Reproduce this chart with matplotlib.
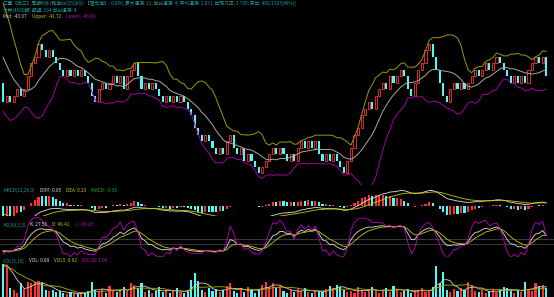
import matplotlib
matplotlib.use('Agg')
import matplotlib.pyplot as plt
import numpy as np
import pandas as pd

plt.rcParams['font.family'] = ['Noto Sans CJK SC', 'DejaVu Sans']

# lead-in bars before the visible window (only used to warm up the indicators)
pre_close = [25, 24, 23, 21, 20, 18, 16, 15, 15]
pre_vol = [2.2, 2.6, 2.4, 3.0, 2.8, 2.5, 2.9, 2.6, 3.1]

# visible bars: close level of each period
close = [12, 13, 12, 13, 14, 13, 14, 16, 18, 19, 21,
         20, 19, 20, 19, 18, 17, 16, 17, 16,
         17, 16, 17, 16, 15, 13, 12, 14, 15, 14, 15,
         16, 15, 16, 14, 16, 17, 18, 16, 14,
         15, 14, 15, 14, 13, 12, 13, 12, 13, 12, 13, 12,
         11, 10, 8, 7, 6, 7, 6, 5, 4, 5, 4, 6, 7,
         5, 4, 5, 3, 4, 3, 2, 1, 2, 3, 4,
         5, 4, 5, 4, 3, 4, 3, 5, 6, 5, 6, 5, 6,
         4, 3, 4, 3, 4, 3, 2, 1, 3, 5, 7,
         8, 10, 11, 12, 11, 13, 14, 15, 14, 16, 15,
         16, 17, 16, 14, 13, 15, 17, 18, 20, 21,
         19, 17, 15, 13, 12, 14, 15, 14, 15, 14, 15, 16,
         17, 16, 17, 18, 17, 18, 19, 18, 17, 16, 15,
         16, 15, 16, 15, 17, 18, 19, 18, 19, 16]

vol = [3.0, 2.8, 0.8, 0.6, 0.3,
       1.2, 0.7, 1.3, 1.2, 1.3, 1.4, 1.2,
       0.6, 0.5, 0.6, 0.4, 0.5,
       0.3, 0.2, 0.4, 0.3, 0.2, 0.4, 0.3, 0.5,
       1.3, 0.6,
       0.4, 0.7, 0.3, 1.0, 0.5, 0.4, 0.6, 0.9, 0.5,
       1.2, 1.1, 0.8, 1.2,
       0.4, 0.6, 0.3, 0.5, 0.9, 0.4, 0.6, 0.3, 0.5, 0.8, 0.4, 0.3, 0.6,
       1.5, 2.1, 1.4,
       0.6, 0.4, 0.8, 0.5, 0.7, 0.4, 0.6, 1.0,
       1.2, 0.5, 0.3, 0.8, 0.4, 0.9, 0.6, 0.3, 0.7,
       1.1, 1.3, 0.9, 1.2, 0.8, 1.0,
       0.5, 0.3, 0.6, 0.4, 0.7, 0.5, 0.8, 0.4, 0.3, 0.6, 0.5, 0.4, 0.7,
       1.0, 0.8, 1.1, 0.9, 0.6,
       0.4, 0.5, 0.3, 0.9, 0.6, 0.4, 0.7, 0.9, 0.5, 0.3, 0.6, 0.8, 0.4,
       1.0, 0.6, 0.4, 0.5, 0.7, 0.3, 0.5, 0.6, 0.8, 0.4, 0.5, 0.9,
       2.8, 1.2, 2.2,
       0.6, 0.4, 0.7, 0.5, 0.8, 0.6, 1.3, 1.1, 0.5, 0.4, 0.6,
       0.3, 0.5, 0.7, 0.4, 0.6, 0.9, 0.8, 0.5, 0.3, 0.6, 0.4, 1.3, 0.7, 0.5,
       1.2, 0.9, 1.1, 0.8]

header1 = ('三星【后三】周期K线 (精选Ax(25)(k3)) 【理论值】: 0.856; 最大遗漏: 11; '
           '当前遗漏: 4; 平均遗漏: 1.071; 出现几率: 3.736; 实出: 482/1303(48%)]')
header2 = '次数(4680期) 期望: 294 当前遗漏: 4'
boll_labels = [('Mid: -43.07', '#c8c8c8'), ('Upper: -41.72', '#c8c800'), ('Lower: -46.03', '#d000d0')]
macd_labels = [('MACD(12,26,9)', '#1e9e9e'), ('DIFF: 0.85', '#e0e0e0'), ('DEA: 0.23', '#c8c800'), ('MACD: -0.36', '#20b020')]
kdj_labels = [('KDJ(9,3,3)', '#1e9e9e'), ('K: 27.56', '#e0e0e0'), ('D: 49.41', '#c8c800'), ('J: -16.13', '#d000d0')]
vol_labels = [('VOL(5,10)', '#1e9e9e'), ('VOL: 0.89', '#e0e0e0'), ('VOL5: 0.92', '#c8c800'), ('VOL10: 1.06', '#d000d0')]

RED = '#ff3030'
CYAN = '#50f8f8'
BG = 'black'

# indicators
c_all = pd.Series(pre_close + close, dtype=float)
o_all = c_all.shift(1).fillna(c_all.iloc[0])
h_all = np.maximum(c_all, o_all)
l_all = np.minimum(c_all, o_all)
v_all = pd.Series(pre_vol + vol, dtype=float)
k0 = len(pre_close)

mid = c_all.rolling(10, min_periods=1).mean()
sd = c_all.rolling(10, min_periods=1).std(ddof=0)
upper = mid + 2 * sd
lower = mid - 2 * sd

dif = c_all.ewm(span=12, adjust=False).mean() - c_all.ewm(span=26, adjust=False).mean()
dea = dif.ewm(span=9, adjust=False).mean()
macd = 2 * (dif - dea)

llv = l_all.rolling(9, min_periods=1).min()
hhv = h_all.rolling(9, min_periods=1).max()
rsv = ((c_all - llv) / (hhv - llv).replace(0, np.nan) * 100).fillna(50)
k_line = rsv.ewm(alpha=1 / 3, adjust=False).mean()
d_line = k_line.ewm(alpha=1 / 3, adjust=False).mean()
j_line = 3 * k_line - 2 * d_line

ma5 = v_all.rolling(5, min_periods=1).mean()
ma10 = v_all.rolling(10, min_periods=1).mean()

o = o_all.iloc[k0:].values
c = c_all.iloc[k0:].values
x = np.arange(len(close))
up = c > o
W = 0.6

fig = plt.figure(figsize=(5.54, 2.97), dpi=100, facecolor=BG)
H = 297.0


def panel(top, bottom):
    ax = fig.add_axes([0, (H - bottom) / H, 1, (bottom - top) / H])
    ax.set_facecolor(BG)
    ax.set_xlim(-0.85, 155.2)
    ax.set_xticks([])
    ax.set_yticks([])
    for s in ax.spines.values():
        s.set_visible(False)
    return ax


def labels(items, ypix, x0=3):
    # one caption row, pieces placed one after another
    xp = x0
    for txt, col in items:
        t = fig.text(xp / 554, 1 - ypix / H, txt, color=col, fontsize=3.4, va='center', ha='left')
        r = t.get_window_extent(renderer=fig.canvas.get_renderer())
        xp += r.width + 5


# main price panel
ax0 = panel(0, 185)
ax0.set_ylim(-0.77, 27.7)
ax0.bar(x[up], (c - o)[up], bottom=o[up], width=W, facecolor=BG, edgecolor=RED, linewidth=0.6)
ax0.bar(x[~up], (c - o)[~up], bottom=o[~up], width=W, color=CYAN, linewidth=0)
ax0.plot(x, upper.iloc[k0:], color='#9a9a00', lw=0.7)
ax0.plot(x, mid.iloc[k0:], color='#a8a8a8', lw=0.7)
ax0.plot(x, lower.iloc[k0:], color='#a000a0', lw=0.7)

# MACD panel
ax1 = panel(186, 216)
m = macd.iloc[k0:].values
ax1.bar(x[up], m[up], width=W, color=RED, linewidth=0)
ax1.bar(x[~up], m[~up], width=W, color=CYAN, linewidth=0)
ax1.plot(x, dif.iloc[k0:], color='#e0e0e0', lw=0.6)
ax1.plot(x, dea.iloc[k0:], color='#c8c800', lw=0.6)
lim = max(abs(dif.iloc[k0:]).max(), abs(dea.iloc[k0:]).max(), abs(m).max())
ax1.set_ylim(-lim * 0.6, lim * 1.2)

# KDJ panel
ax2 = panel(217, 257)
ax2.set_ylim(-18, 130)
for lv in (30, 50):
    ax2.axhline(lv, color='#505050', lw=0.5)
ax2.plot(x, k_line.iloc[k0:], color='#e0e0e0', lw=0.6)
ax2.plot(x, d_line.iloc[k0:], color='#c8c800', lw=0.6)
ax2.plot(x, j_line.iloc[k0:], color='#c000c0', lw=0.6)

# volume panel
ax3 = panel(258, 297)
ax3.set_ylim(-0.03, 3.5)
vv = np.array(vol)
ax3.bar(x[up], vv[up], width=W, color=RED, linewidth=0)
ax3.bar(x[~up], vv[~up], width=W, color=CYAN, linewidth=0)
ax3.plot(x, ma5.iloc[k0:], color='#d0d0d0', lw=0.6)
ax3.plot(x, ma10.iloc[k0:], color='#b0b000', lw=0.6)

# header and panel captions
fig.text(3 / 554, 1 - 4 / H, header1, color='#1e9e9e', fontsize=3.4, va='center', ha='left')
fig.text(3 / 554, 1 - 10 / H, header2, color='#1e9e9e', fontsize=3.4, va='center', ha='left')
labels(boll_labels, 16.5)
labels(macd_labels, 190)
labels(kdj_labels, 225)
labels(vol_labels, 261)

fig.savefig('out.png', dpi=100, facecolor=BG)
